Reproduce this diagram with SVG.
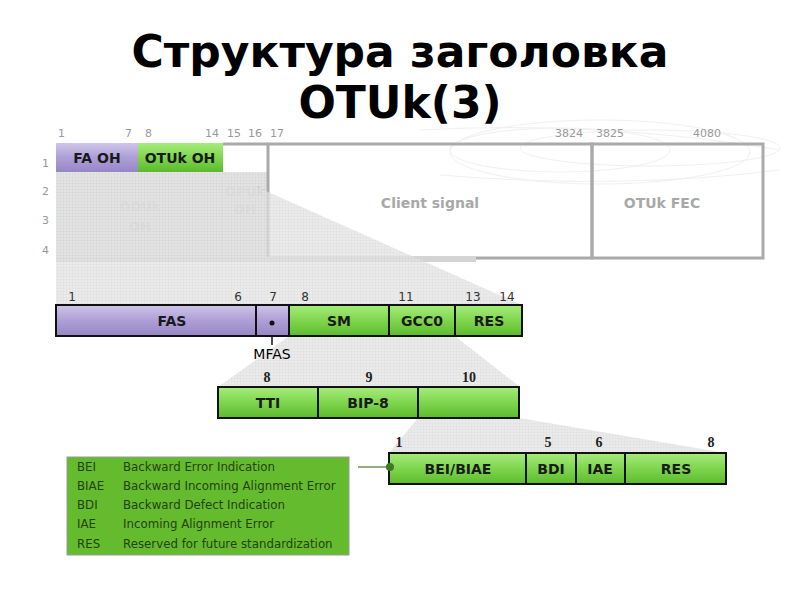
<svg xmlns="http://www.w3.org/2000/svg" width="800" height="600" viewBox="0 0 800 600">
<defs>
<linearGradient id="gPurple" x1="0" y1="0" x2="0" y2="1">
<stop offset="0" stop-color="#cfc5ea"/><stop offset="0.5" stop-color="#ad9fd6"/><stop offset="1" stop-color="#9786c6"/>
</linearGradient>
<linearGradient id="gGreen" x1="0" y1="0" x2="0" y2="1">
<stop offset="0" stop-color="#a6ec7c"/><stop offset="0.5" stop-color="#7fd64e"/><stop offset="1" stop-color="#5cba2c"/>
</linearGradient>
<pattern id="hatch" width="3" height="3" patternUnits="userSpaceOnUse">
<rect width="3" height="3" fill="#e4e4e4"/>
<path d="M0 0.5H3M0.5 0V3" stroke="#d6d6d6" stroke-width="0.6"/>
</pattern>
<style>
.title{font-family:"DejaVu Sans",sans-serif;font-weight:bold;font-size:44px;fill:#000;text-anchor:middle}
.num{font-family:"DejaVu Sans",sans-serif;font-size:11px;fill:#999}
.faint{font-family:"DejaVu Sans",sans-serif;font-size:14px;fill:#a8a8a8;text-anchor:middle;font-weight:bold}
.faint2{font-family:"DejaVu Sans",sans-serif;font-size:13px;fill:#cacaca;text-anchor:middle;font-weight:bold}
.lbl{font-family:"DejaVu Sans",sans-serif;font-size:14px;font-weight:bold;fill:#1a1a1a;text-anchor:middle}
.num2{font-family:"DejaVu Sans",sans-serif;font-size:12px;fill:#333;text-anchor:middle}
.num3{font-family:"Liberation Serif",serif;font-size:14px;font-weight:bold;fill:#222;text-anchor:middle}
.box{stroke:#111;stroke-width:2}
.leg{font-family:"DejaVu Sans",sans-serif;font-size:11.8px;fill:#264210}
.frame{fill:none;stroke:#aaa;stroke-width:3}
</style>
</defs>
<rect width="800" height="600" fill="#fff"/>
<!-- faint background swirls -->
<g fill="none" stroke="#f0f0f0" stroke-width="1">
<ellipse cx="560" cy="150" rx="110" ry="22"/>
<ellipse cx="600" cy="152" rx="150" ry="32"/>
<ellipse cx="650" cy="148" rx="130" ry="18"/>
<path d="M420 130 Q600 120 780 150"/>
<path d="M440 175 Q620 190 780 170"/>
</g>
<!-- title -->
<g id="title">
<text class="title" x="400" y="67">Структура заголовка</text>
<text class="title" x="400" y="118">OTUk(3)</text>
</g>
<!-- top frame -->
<g id="frame">
<rect x="56" y="172" width="212" height="88" fill="url(#hatch)"/>
<line x1="222" y1="172" x2="222" y2="258" stroke="#d0d0d0" stroke-width="1.5"/>
<rect x="268" y="144" width="324" height="114" class="frame"/>
<rect x="592" y="144" width="171" height="114" class="frame"/>
<line x1="223" y1="144" x2="268" y2="144" stroke="#aaa" stroke-width="3"/>
<rect x="56" y="257" width="420" height="5" fill="#d4d4d4"/>
<text class="faint" x="430" y="208">Client signal</text>
<text class="faint" x="662" y="208">OTUk FEC</text>
<text class="faint2" x="140" y="211">ODUk</text>
<text class="faint2" x="140" y="231">OH</text>
<text class="faint2" x="245" y="196">OPUk</text>
<text class="faint2" x="245" y="214">OH</text>
<text class="num" x="58" y="137">1</text>
<text class="num" x="125" y="137">7</text>
<text class="num" x="145" y="137">8</text>
<text class="num" x="205" y="137">14</text>
<text class="num" x="227" y="137">15</text>
<text class="num" x="248" y="137">16</text>
<text class="num" x="270" y="137">17</text>
<text class="num" x="555" y="137">3824</text>
<text class="num" x="596" y="137">3825</text>
<text class="num" x="693" y="137">4080</text>
<text class="num" x="42" y="167">1</text>
<text class="num" x="42" y="195">2</text>
<text class="num" x="42" y="224">3</text>
<text class="num" x="42" y="254">4</text>
</g>
<g id="fa-oh">
<rect x="56" y="143" width="82" height="29" fill="url(#gPurple)"/>
<text class="lbl" x="97" y="163">FA OH</text>
</g>
<g id="otuk-oh">
<rect x="138" y="143" width="85" height="29" fill="url(#gGreen)"/>
<text class="lbl" x="180" y="163">OTUk OH</text>
</g>
<!-- projections -->
<g id="connectors">
<polygon points="56,172 223,172 522,305 56,305" fill="url(#hatch)" opacity="0.75"/>
<polygon points="289,336 455,336 520,387 218,387" fill="url(#hatch)" opacity="0.75"/>
<polygon points="418,418 519,418 726,453 389,453" fill="url(#hatch)" opacity="0.75"/>
<line x1="272" y1="323" x2="272" y2="345" stroke="#111" stroke-width="1.5"/>
<line x1="358" y1="467" x2="389" y2="467" stroke="#4a7a2a" stroke-width="1.2"/>
</g>
<!-- row 2 -->
<g id="row2-numbers">
<text class="num2" x="72" y="301">1</text>
<text class="num2" x="238" y="301">6</text>
<text class="num2" x="273" y="301">7</text>
<text class="num2" x="305" y="301">8</text>
<text class="num2" x="406" y="301">11</text>
<text class="num2" x="473" y="301">13</text>
<text class="num2" x="507" y="301">14</text>
</g>
<g id="fas"><rect x="56" y="305" width="200" height="31" fill="url(#gPurple)" class="box"/><text class="lbl" x="172" y="326">FAS</text></g>
<g id="mfas"><rect x="256" y="305" width="33" height="31" fill="url(#gPurple)" class="box"/><circle cx="272" cy="323" r="2.5" fill="#111"/><text class="lbl" x="272" y="359" style="font-weight:normal;fill:#000">MFAS</text></g>
<g id="sm"><rect x="289" y="305" width="100" height="31" fill="url(#gGreen)" class="box"/><text class="lbl" x="339" y="326">SM</text></g>
<g id="gcc0"><rect x="389" y="305" width="66" height="31" fill="url(#gGreen)" class="box"/><text class="lbl" x="422" y="326">GCC0</text></g>
<g id="res1"><rect x="455" y="305" width="67" height="31" fill="url(#gGreen)" class="box"/><text class="lbl" x="489" y="326">RES</text></g>
<!-- row 3 -->
<g id="row3-numbers">
<text class="num3" x="267" y="382">8</text>
<text class="num3" x="369" y="382">9</text>
<text class="num3" x="469" y="382">10</text>
</g>
<g id="tti"><rect x="218" y="387" width="100" height="31" fill="url(#gGreen)" class="box"/><text class="lbl" x="268" y="408">TTI</text></g>
<g id="bip8"><rect x="318" y="387" width="100" height="31" fill="url(#gGreen)" class="box"/><text class="lbl" x="368" y="408">BIP-8</text></g>
<g id="byte10"><rect x="418" y="387" width="101" height="31" fill="url(#gGreen)" class="box"/></g>
<!-- row 4 -->
<g id="row4-numbers">
<text class="num3" x="399" y="447">1</text>
<text class="num3" x="548" y="447">5</text>
<text class="num3" x="599" y="447">6</text>
<text class="num3" x="711" y="447">8</text>
</g>
<g id="bei-biae"><rect x="389" y="453" width="137" height="31" fill="url(#gGreen)" class="box"/><circle cx="390" cy="467" r="4" fill="#3f7a1f"/><text class="lbl" x="458" y="474">BEI/BIAE</text></g>
<g id="bdi"><rect x="526" y="453" width="50" height="31" fill="url(#gGreen)" class="box"/><text class="lbl" x="551" y="474">BDI</text></g>
<g id="iae"><rect x="576" y="453" width="49" height="31" fill="url(#gGreen)" class="box"/><text class="lbl" x="600" y="474">IAE</text></g>
<g id="res2"><rect x="625" y="453" width="101" height="31" fill="url(#gGreen)" class="box"/><text class="lbl" x="676" y="474">RES</text></g>
<!-- legend -->
<g id="legend">
<rect x="67" y="457" width="282" height="98" fill="#64bb2e" stroke="#9a9a9a" stroke-width="1"/>
<text class="leg" x="77" y="471">BEI</text><text class="leg" x="123" y="471">Backward Error Indication</text>
<text class="leg" x="77" y="490">BIAE</text><text class="leg" x="123" y="490">Backward Incoming Alignment Error</text>
<text class="leg" x="77" y="509">BDI</text><text class="leg" x="123" y="509">Backward Defect Indication</text>
<text class="leg" x="77" y="528">IAE</text><text class="leg" x="123" y="528">Incoming Alignment Error</text>
<text class="leg" x="77" y="548">RES</text><text class="leg" x="123" y="548">Reserved for future standardization</text>
</g>
</svg>
